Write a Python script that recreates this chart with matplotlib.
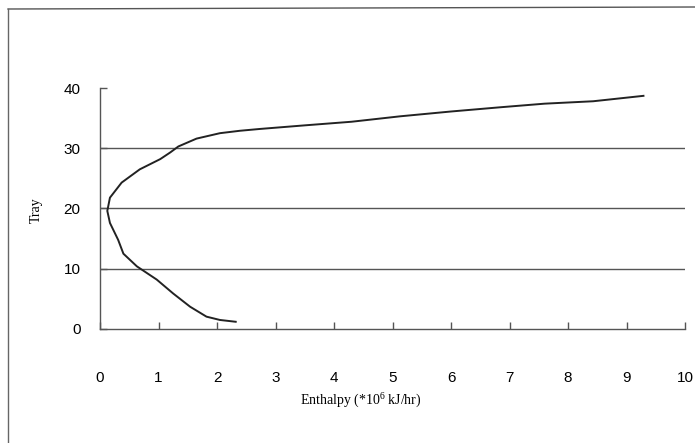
import matplotlib
matplotlib.use("Agg")
import matplotlib.pyplot as plt
from matplotlib.lines import Line2D

# Data
enthalpy = [2.32, 2.05, 1.82, 1.54, 1.25, 0.97, 0.63, 0.40, 0.31, 0.17, 0.125, 0.17,
            0.37, 0.68, 1.03, 1.20, 1.34, 1.65, 2.05, 2.39, 2.73, 3.5, 4.3, 5.13,
            6.0, 6.84, 7.6, 8.43, 9.29]
tray = [1.2, 1.5, 2.05, 3.7, 5.9, 8.2, 10.4, 12.5, 14.8, 17.6, 19.6, 21.8,
        24.3, 26.5, 28.2, 29.3, 30.3, 31.6, 32.5, 32.9, 33.2, 33.8, 34.4, 35.3,
        36.1, 36.8, 37.4, 37.8, 38.7]
x_ticks = [0, 1, 2, 3, 4, 5, 6, 7, 8, 9, 10]
y_ticks = [0, 10, 20, 30, 40]
grid_levels = [10, 20, 30]

plt.rcParams['mathtext.fontset'] = 'custom'
plt.rcParams['mathtext.rm'] = 'Liberation Serif'
plt.rcParams['mathtext.it'] = 'Liberation Serif'

fig = plt.figure(figsize=(6.95, 4.43), dpi=100)
W, H = 695, 443
ax = fig.add_axes([100 / W, 1 - 329 / H, 585 / W, 241 / H])

for g in grid_levels:
    ax.axhline(g, color='#555555', lw=1.0, zorder=1)

ax.plot(enthalpy, tray, color='#222222', lw=1.4, zorder=3)

ax.set_xlim(0, 10)
ax.set_ylim(0, 40)
ax.set_xticks(x_ticks)
ax.set_yticks(y_ticks)
ax.set_xticklabels([str(v) for v in x_ticks], family='Liberation Sans', fontsize=11)
ax.set_yticklabels([str(v) for v in y_ticks], family='Liberation Sans', fontsize=11)
ax.tick_params(axis='x', direction='in', length=5, width=1, color='#555555', pad=30)
ax.tick_params(axis='y', direction='in', length=5, width=1, color='#555555', pad=14)

for s in ['top', 'right']:
    ax.spines[s].set_visible(False)
for s in ['left', 'bottom']:
    ax.spines[s].set_color('#555555')
    ax.spines[s].set_linewidth(1.0)

fig.text(361 / W, 1 - 401 / H, r"Enthalpy (*10$^{6}$ kJ/hr)", family='Liberation Serif',
         fontsize=10, ha='center', va='center')
fig.text(36 / W, 1 - 210 / H, "Tray", family='Liberation Serif', fontsize=10,
         rotation=90, ha='center', va='center')

# outer frame lines of the scanned figure
fig.add_artist(Line2D([8 / W, 1.0], [1 - 9 / H, 1 - 7 / H], transform=fig.transFigure,
                      color='#555555', lw=1.0))
fig.add_artist(Line2D([8 / W, 8 / W], [0, 1 - 9 / H], transform=fig.transFigure,
                      color='#666666', lw=1.0))

fig.savefig("out.png", dpi=100)
